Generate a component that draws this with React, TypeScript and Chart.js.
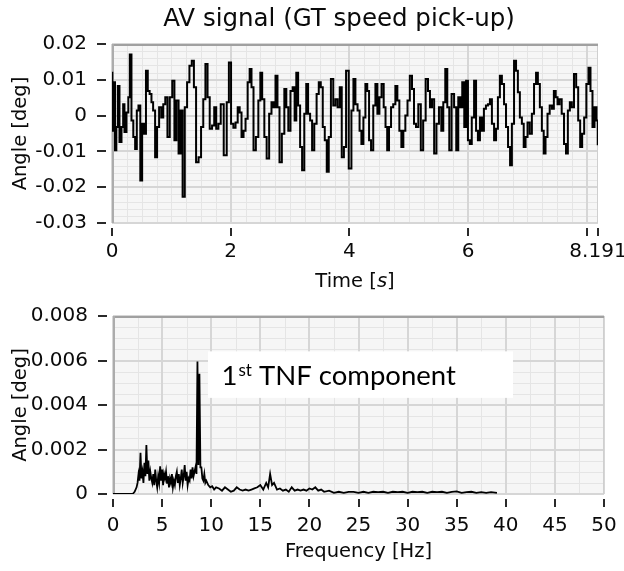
import React, { useEffect, useRef } from 'react';
import { Chart, registerables } from 'chart.js';

Chart.register(...registerables);

// ---------- Top chart data: AV signal (time in s, angle in deg) ----------
const TIME_S = [
  0.000, 0.011, 0.039, 0.062, 0.084, 0.112, 0.140, 0.180, 0.196, 0.224, 0.264, 0.286, 0.314, 0.342, 0.376, 0.404,
  0.432, 0.460, 0.494, 0.522, 0.556, 0.589, 0.617, 0.651, 0.679, 0.707, 0.746, 0.774, 0.814, 0.847, 0.881, 0.915,
  0.954, 0.993, 1.038, 1.066, 1.105, 1.139, 1.173, 1.207, 1.246, 1.285, 1.325, 1.364, 1.397, 1.437, 1.481, 1.521,
  1.555, 1.594, 1.627, 1.667, 1.706, 1.740, 1.773, 1.813, 1.852, 1.914, 1.953, 1.987, 2.026, 2.065, 2.099, 2.138,
  2.166, 2.200, 2.234, 2.267, 2.306, 2.334, 2.368, 2.402, 2.447, 2.486, 2.514, 2.548, 2.587, 2.626, 2.671, 2.705,
  2.739, 2.772, 2.806, 2.840, 2.885, 2.924, 2.952, 2.991, 3.025, 3.064, 3.092, 3.120, 3.154, 3.187, 3.221, 3.260,
  3.288, 3.322, 3.356, 3.389, 3.429, 3.468, 3.502, 3.535, 3.569, 3.603, 3.636, 3.670, 3.709, 3.749, 3.782, 3.822,
  3.855, 3.889, 3.928, 3.962, 4.018, 4.052, 4.086, 4.119, 4.158, 4.187, 4.220, 4.254, 4.288, 4.316, 4.349, 4.383,
  4.423, 4.456, 4.490, 4.524, 4.562, 4.596, 4.624, 4.652, 4.686, 4.720, 4.759, 4.793, 4.826, 4.860, 4.894, 4.927,
  4.961, 5.000, 5.039, 5.073, 5.107, 5.140, 5.185, 5.224, 5.264, 5.309, 5.342, 5.376, 5.410, 5.449, 5.488, 5.533,
  5.567, 5.600, 5.634, 5.668, 5.701, 5.746, 5.785, 5.819, 5.853, 5.886, 5.920, 5.954, 5.982, 6.016, 6.044, 6.083,
  6.122, 6.150, 6.184, 6.218, 6.251, 6.285, 6.319, 6.353, 6.386, 6.420, 6.459, 6.487, 6.521, 6.554, 6.588, 6.627,
  6.655, 6.695, 6.723, 6.756, 6.796, 6.824, 6.857, 6.891, 6.925, 6.953, 6.987, 7.020, 7.060, 7.093, 7.133, 7.161,
  7.194, 7.228, 7.262, 7.290, 7.323, 7.357, 7.397, 7.430, 7.464, 7.492, 7.526, 7.559, 7.599, 7.638, 7.666, 7.700,
  7.733, 7.767, 7.806, 7.840, 7.874, 7.907, 7.941, 7.975, 8.014, 8.048, 8.081, 8.115, 8.149, 8.182, 8.191,
];
const ANGLE_DEG = [
  0.0120, -0.0042, 0.0093, -0.0097, -0.0032, 0.0083, -0.0074, -0.0032, 0.0032, -0.0046, 0.0009, 0.0051, 0.0171, -0.0014, -0.0060, -0.0093,
  0.0014, 0.0028, -0.0181, -0.0023, -0.0051, 0.0125, 0.0069, 0.0060, 0.0037, 0.0014, -0.0116, -0.0032, 0.0023, -0.0005, 0.0032, 0.0051,
  -0.0060, 0.0051, 0.0097, -0.0069, 0.0042, -0.0106, 0.0014, -0.0227, 0.0023, 0.0093, 0.0139, 0.0153, 0.0079, -0.0130, -0.0116, -0.0032,
  0.0046, 0.0144, 0.0051, -0.0037, -0.0028, 0.0023, -0.0037, -0.0023, 0.0032, -0.0111, 0.0037, 0.0148, -0.0023, -0.0034, -0.0019, 0.0023,
  0.0009, -0.0060, -0.0042, -0.0009, 0.0093, 0.0130, 0.0079, -0.0097, -0.0060, 0.0042, 0.0120, 0.0046, -0.0060, -0.0120, 0.0005, 0.0037,
  0.0023, 0.0111, 0.0023, -0.0130, -0.0051, 0.0074, 0.0023, -0.0042, 0.0069, 0.0079, -0.0014, 0.0120, 0.0028, -0.0088, -0.0153, 0.0005,
  0.0088, 0.0005, -0.0014, -0.0097, -0.0023, 0.0060, 0.0093, 0.0079, -0.0032, -0.0069, -0.0157, -0.0060, 0.0102, 0.0028, 0.0046, 0.0023,
  0.0079, -0.0116, -0.0088, 0.0125, -0.0148, 0.0014, 0.0102, 0.0032, 0.0014, -0.0042, -0.0079, -0.0005, 0.0088, 0.0069, -0.0069, -0.0097,
  0.0028, 0.0088, 0.0005, 0.0051, 0.0088, 0.0023, -0.0032, -0.0097, -0.0032, 0.0023, 0.0032, 0.0083, 0.0042, -0.0042, -0.0088, -0.0042,
  0.0000, 0.0042, 0.0111, 0.0074, -0.0023, -0.0032, 0.0032, -0.0097, -0.0014, 0.0102, 0.0069, 0.0023, 0.0046, -0.0106, -0.0023, 0.0023,
  -0.0042, 0.0037, 0.0130, 0.0023, -0.0097, 0.0060, 0.0023, -0.0097, 0.0051, 0.0023, 0.0093, -0.0032, 0.0097, -0.0069, -0.0079, -0.0005,
  0.0097, -0.0042, -0.0069, -0.0005, -0.0042, 0.0019, 0.0028, 0.0032, 0.0046, -0.0023, -0.0069, -0.0037, 0.0051, 0.0111, 0.0088, 0.0032,
  -0.0032, -0.0088, -0.0139, -0.0023, 0.0153, 0.0125, 0.0065, -0.0005, -0.0023, -0.0088, -0.0060, -0.0019, -0.0051, 0.0005, 0.0088, 0.0120,
  0.0088, 0.0023, -0.0042, -0.0106, -0.0060, 0.0005, 0.0028, 0.0019, 0.0069, 0.0051, 0.0032, 0.0046, 0.0005, -0.0079, -0.0106, 0.0014,
  0.0037, 0.0023, 0.0116, 0.0079, -0.0014, -0.0088, -0.0051, -0.0005, 0.0088, 0.0134, 0.0069, -0.0032, 0.0023, -0.0014, -0.0080,
];
const TIME_TICKS = [0, 2, 4, 6, 8, 8.191];
const TIME_TICK_LABELS = ['0', '2', '4', '6', '', '8.191'];
const ANGLE_TICKS = [-0.03, -0.02, -0.01, 0, 0.01, 0.02];
const ANGLE_TICK_LABELS = ['-0.03', '-0.02', '-0.01', '0', '0.01', '0.02'];

// ---------- Bottom chart data: spectrum (frequency in Hz, angle in deg) ----------
const FREQ_HZ = [
  0, 1.0, 2.0, 2.2, 2.4, 2.5, 2.6, 2.7, 2.8, 2.9, 3.0, 3.1, 3.2, 3.3, 3.4, 3.5, 3.6, 3.7, 3.8, 3.9,
  4.0, 4.1, 4.2, 4.3, 4.4, 4.5, 4.6, 4.7, 4.8, 4.9, 5.0, 5.1, 5.2, 5.3, 5.4, 5.5, 5.6, 5.7, 5.8, 5.9,
  6.0, 6.1, 6.2, 6.3, 6.4, 6.5, 6.6, 6.7, 6.8, 6.9, 7.0, 7.1, 7.2, 7.3, 7.4, 7.5, 7.6, 7.7, 7.8, 7.9,
  8.0, 8.1, 8.2, 8.3, 8.4, 8.5, 8.6, 8.7, 8.8, 8.9, 9.0, 9.1, 9.2, 9.3, 9.4, 9.5, 9.7, 9.9, 10.1, 10.3,
  10.5, 10.8, 11.1, 11.4, 11.7, 12.0, 12.3, 12.6, 12.9, 13.2, 13.5, 13.8, 14.1, 14.4, 14.7, 15.0, 15.3, 15.6, 15.8, 16.0,
  16.2, 16.4, 16.7, 17.0, 17.3, 17.6, 17.9, 18.2, 18.5, 18.8, 19.1, 19.4, 19.7, 20.0, 20.3, 20.6, 20.9, 21.2, 21.5, 22.0,
  22.5, 23.0, 23.5, 24.0, 24.5, 25.0, 25.5, 26.0, 26.5, 27.0, 27.5, 28.0, 28.5, 29.0, 29.5, 30.0, 30.5, 31.0, 31.5, 32.0,
  32.5, 33.0, 33.5, 34.0, 34.5, 35.0, 35.5, 36.0, 36.5, 37.0, 37.5, 38.0, 38.5, 39.1,
];
const AMP_DEG = [
  0, 0, 0, 0.0001, 0.0003, 0.0005, 0.0009, 0.0006, 0.00185, 0.0007, 0.0010, 0.0005, 0.0014, 0.0008, 0.0022, 0.0009, 0.0015, 0.0006, 0.0010, 0.0007,
  0.0005, 0.0009, 0.0004, 0.0011, 0.0006, 0.0003, 0.0008, 0.0005, 0.00125, 0.0006, 0.0011, 0.0004, 0.0009, 0.0007, 0.0010, 0.0005, 0.0008, 0.0003, 0.0007, 0.0005,
  0.0009, 0.0003, 0.0006, 0.0004, 0.0008, 0.0010, 0.0005, 0.0009, 0.0004, 0.0007, 0.0011, 0.0005, 0.0008, 0.0013, 0.0006, 0.0010, 0.0004, 0.0007, 0.0006, 0.0011,
  0.0007, 0.0012, 0.0008, 0.0010, 0.0012, 0.0009, 0.00595, 0.0013, 0.0054, 0.0012, 0.0012, 0.0007, 0.0006, 0.0009, 0.0005, 0.0006, 0.0004, 0.0003, 0.00035, 0.0002,
  0.0003, 0.00025, 0.00015, 0.0003, 0.0002, 0.0001, 0.00015, 0.0003, 0.0002, 0.00015, 0.0002, 0.00015, 0.0002, 0.00025, 0.0003, 0.0004, 0.0002, 0.0005, 0.0003, 0.0009,
  0.0004, 0.0005, 0.0002, 0.00025, 0.00015, 0.0002, 0.0001, 0.0003, 0.00015, 0.0002, 0.00015, 0.0002, 0.00015, 0.00025, 0.0002, 0.0003, 0.00015, 0.0002, 0.0001, 0.00015,
  0.00005, 0.0001, 0.00005, 0.0001, 0.0001, 0.00005, 0.0001, 0.00005, 0.0001, 0.00008, 0.0001, 0.00005, 0.0001, 0.00008, 0.0001, 0.00005, 0.0001, 0.00008, 0.0001, 0.00005,
  0.0001, 0.00008, 0.0001, 0.00005, 0.0001, 0.00012, 0.00005, 0.00008, 0.0001, 0.00005, 0.00008, 0.00005, 0.00008, 0.00005,
];
const FREQ_TICKS = [0, 5, 10, 15, 20, 25, 30, 35, 40, 45, 50];
const FREQ_TICK_LABELS = ['0', '5', '10', '15', '20', '25', '30', '35', '40', '45', '50'];
const AMP_TICKS = [0, 0.002, 0.004, 0.006, 0.008];
const AMP_TICK_LABELS = ['0', '0.002', '0.004', '0.006', '0.008'];

// ---------- Texts ----------
const TOP_TITLE = 'AV signal (GT speed pick-up)';
const Y_TITLE = 'Angle [deg]';
const X_TITLE_TOP = ['Time [', 's', ']'];
const X_TITLE_BOTTOM = 'Frequency [Hz]';
const NOTE_MAIN = '1';
const NOTE_SUP = 'st';
const NOTE_REST = ' TNF component';
// annotation box in data units (Hz, deg)
const NOTE_BOX = { x0: 9.67, x1: 40.73, y0: 0.00432, y1: 0.00641 };
const NOTE_TEXT_AT = { x: 11.05, y: 0.0049 };

// ---------- Styles ----------
const FONT = 'DejaVu Sans';
const TEXT = '#0a0a0a';
const BG = '#f6f6f6';
const GRID_MINOR = '#e5e5e5';
const GRID_MAJOR = '#d6d6d6';

type Dec = {
  xMin: number; xMax: number; xMinor: number; xMajor: number;
  yMin: number; yMax: number; yMinor: number; yMajor: number;
  xTicks: number[]; yTicks: number[];
  yTitleX: number; xTitleY: number;
  drawExtra?: (chart: any) => void;
  drawXTitle: (ctx: CanvasRenderingContext2D, cx: number, cy: number) => void;
};

function gridValues(min: number, max: number, step: number) {
  const n = Math.floor((max - min) / step + 1e-9);
  const out: number[] = [];
  for (let i = 0; i <= n; i++) out.push(min + i * step);
  return out;
}

function makeDecor(d: Dec) {
  return {
    id: 'labviewDecor',
    beforeDatasetsDraw(chart: any) {
      const { ctx, chartArea: a, scales } = chart;
      const xs = scales.x, ys = scales.y;
      ctx.save();
      ctx.fillStyle = BG;
      ctx.fillRect(a.left, a.top, a.right - a.left, a.bottom - a.top);
      const vline = (v: number, color: string, w: number) => {
        const px = Math.round(xs.getPixelForValue(v)) + (w % 2 ? 0.5 : 0);
        ctx.strokeStyle = color; ctx.lineWidth = w;
        ctx.beginPath(); ctx.moveTo(px, a.top); ctx.lineTo(px, a.bottom); ctx.stroke();
      };
      const hline = (v: number, color: string, w: number) => {
        const py = Math.round(ys.getPixelForValue(v)) + (w % 2 ? 0.5 : 0);
        ctx.strokeStyle = color; ctx.lineWidth = w;
        ctx.beginPath(); ctx.moveTo(a.left, py); ctx.lineTo(a.right, py); ctx.stroke();
      };
      gridValues(d.xMin, d.xMax, d.xMinor).forEach((v) => vline(v, GRID_MINOR, 1));
      gridValues(d.yMin, d.yMax, d.yMinor).forEach((v) => hline(v, GRID_MINOR, 1));
      gridValues(d.xMin, d.xMax, d.xMajor).forEach((v) => vline(v, GRID_MAJOR, 2));
      gridValues(d.yMin, d.yMax, d.yMajor).forEach((v) => hline(v, GRID_MAJOR, 2));
      // frame
      ctx.strokeStyle = '#cfcfcf'; ctx.lineWidth = 1;
      ctx.beginPath(); ctx.moveTo(a.right - 0.5, a.top); ctx.lineTo(a.right - 0.5, a.bottom); ctx.stroke();
      ctx.strokeStyle = '#a0a0a0'; ctx.lineWidth = 2;
      ctx.beginPath(); ctx.moveTo(a.left, a.top + 1); ctx.lineTo(a.right, a.top + 1); ctx.stroke();
      ctx.strokeStyle = '#acacac'; ctx.lineWidth = 2;
      ctx.beginPath(); ctx.moveTo(a.left + 1, a.top); ctx.lineTo(a.left + 1, a.bottom); ctx.stroke();
      ctx.restore();
    },
    afterDatasetsDraw(chart: any) {
      if (d.drawExtra) d.drawExtra(chart);
    },
    afterDraw(chart: any) {
      const { ctx, chartArea: a, scales } = chart;
      const xs = scales.x, ys = scales.y;
      ctx.save();
      ctx.strokeStyle = '#2a2a2a';
      ctx.lineWidth = 2;
      d.yTicks.forEach((v) => {
        const py = Math.round(ys.getPixelForValue(v));
        ctx.beginPath(); ctx.moveTo(a.left - 15, py); ctx.lineTo(a.left - 6, py); ctx.stroke();
      });
      d.xTicks.forEach((v) => {
        const px = Math.round(xs.getPixelForValue(v));
        ctx.beginPath(); ctx.moveTo(px, a.bottom + 5); ctx.lineTo(px, a.bottom + 13); ctx.stroke();
      });
      // y title
      ctx.fillStyle = TEXT;
      ctx.font = `19.5px "${FONT}"`;
      ctx.textAlign = 'center';
      ctx.textBaseline = 'middle';
      ctx.save();
      ctx.translate(d.yTitleX, (a.top + a.bottom) / 2);
      ctx.rotate(-Math.PI / 2);
      ctx.fillText(Y_TITLE, 0, 0);
      ctx.restore();
      d.drawXTitle(ctx, (a.left + a.right) / 2, d.xTitleY);
      ctx.restore();
    },
  };
}

const tickFont = { family: FONT, size: 20 };

function topConfig(): any {
  const decor = makeDecor({
    xMin: 0, xMax: 8.191, xMinor: 0.25, xMajor: 2,
    yMin: -0.03, yMax: 0.02, yMinor: 0.002, yMajor: 0.01,
    xTicks: TIME_TICKS, yTicks: ANGLE_TICKS,
    yTitleX: 21, xTitleY: 282,
    drawXTitle: (ctx, cx, cy) => {
      const normal = `19.5px "${FONT}"`;
      const italic = `oblique 19.5px "${FONT}"`;
      ctx.font = normal;
      const w0 = ctx.measureText(X_TITLE_TOP[0]).width;
      const w2 = ctx.measureText(X_TITLE_TOP[2]).width;
      ctx.font = italic;
      const w1 = ctx.measureText(X_TITLE_TOP[1]).width;
      let x = cx - (w0 + w1 + w2) / 2;
      ctx.textAlign = 'left';
      ctx.textBaseline = 'middle';
      ctx.fillStyle = TEXT;
      ctx.font = normal; ctx.fillText(X_TITLE_TOP[0], x, cy); x += w0;
      ctx.font = italic; ctx.fillText(X_TITLE_TOP[1], x, cy); x += w1;
      ctx.font = normal; ctx.fillText(X_TITLE_TOP[2], x, cy);
    },
    drawExtra: (chart) => {
      const { ctx } = chart;
      ctx.save();
      ctx.fillStyle = TEXT;
      ctx.font = `24.5px "${FONT}"`;
      ctx.textAlign = 'center';
      ctx.textBaseline = 'middle';
      ctx.fillText(TOP_TITLE, 339, 20);
      ctx.restore();
    },
  });
  return {
    type: 'line',
    data: {
      datasets: [{
        data: TIME_S.map((t, i) => ({ x: t, y: ANGLE_DEG[i] })),
        borderColor: '#000',
        borderWidth: 2,
        pointRadius: 0,
        stepped: 'middle',
        fill: false,
      }],
    },
    options: {
      responsive: false,
      animation: false,
      devicePixelRatio: 1,
      events: [],
      layout: { padding: { top: 44, right: 26, left: 0, bottom: 0 } },
      plugins: { legend: { display: false }, tooltip: { enabled: false }, title: { display: false } },
      scales: {
        x: {
          type: 'linear', min: 0, max: 8.191,
          grid: { display: false }, border: { display: false },
          afterBuildTicks: (s: any) => { s.ticks = TIME_TICKS.map((v) => ({ value: v })); },
          afterFit: (s: any) => { s.height = 290 - 223; s.paddingLeft = 0; s.paddingRight = 0; },
          ticks: {
            autoSkip: false, maxRotation: 0, minRotation: 0, padding: 9,
            font: tickFont, color: TEXT,
            callback: (_v: any, i: number) => TIME_TICK_LABELS[i],
          },
        },
        y: {
          type: 'linear', min: -0.03, max: 0.02,
          grid: { display: false }, border: { display: false },
          afterBuildTicks: (s: any) => { s.ticks = ANGLE_TICKS.map((v) => ({ value: v })); },
          afterFit: (s: any) => { s.width = 112; s.paddingTop = 0; s.paddingBottom = 0; },
          ticks: {
            autoSkip: false, padding: 17, font: tickFont, color: TEXT,
            callback: (_v: any, i: number) => ANGLE_TICK_LABELS[i],
          },
        },
      },
    },
    plugins: [decor],
  };
}

function bottomConfig(): any {
  const decor = makeDecor({
    xMin: 0, xMax: 50, xMinor: 2.5, xMajor: 5,
    yMin: 0, yMax: 0.008, yMinor: 0.0005, yMajor: 0.002,
    xTicks: FREQ_TICKS, yTicks: AMP_TICKS,
    yTitleX: 21, xTitleY: 262,
    drawXTitle: (ctx, cx, cy) => {
      ctx.font = `19.5px "${FONT}"`;
      ctx.textAlign = 'center';
      ctx.textBaseline = 'middle';
      ctx.fillStyle = TEXT;
      ctx.fillText(X_TITLE_BOTTOM, cx, cy);
    },
    drawExtra: (chart) => {
      const { ctx, scales } = chart;
      const xs = scales.x, ys = scales.y;
      const bx0 = xs.getPixelForValue(NOTE_BOX.x0), bx1 = xs.getPixelForValue(NOTE_BOX.x1);
      const by0 = ys.getPixelForValue(NOTE_BOX.y1), by1 = ys.getPixelForValue(NOTE_BOX.y0);
      ctx.save();
      ctx.fillStyle = '#ffffff';
      ctx.fillRect(bx0, by0, bx1 - bx0, by1 - by0);
      const tx = xs.getPixelForValue(NOTE_TEXT_AT.x);
      const ty = ys.getPixelForValue(NOTE_TEXT_AT.y);
      ctx.fillStyle = '#000';
      ctx.textAlign = 'left';
      ctx.textBaseline = 'alphabetic';
      ctx.font = '27.5px Lato';
      ctx.fillText(NOTE_MAIN, tx, ty);
      let x = tx + ctx.measureText(NOTE_MAIN).width + 1;
      ctx.font = '17px Lato';
      ctx.fillText(NOTE_SUP, x, ty - 9);
      x += ctx.measureText(NOTE_SUP).width;
      ctx.font = '27.5px Lato';
      ctx.fillText(NOTE_REST, x, ty);
      ctx.restore();
    },
  });
  return {
    type: 'line',
    data: {
      datasets: [{
        data: FREQ_HZ.map((f, i) => ({ x: f, y: AMP_DEG[i] })),
        borderColor: '#000',
        borderWidth: 1.8,
        pointRadius: 0,
        fill: false,
      }],
    },
    options: {
      responsive: false,
      animation: false,
      devicePixelRatio: 1,
      events: [],
      layout: { padding: { top: 26, right: 20, left: 0, bottom: 0 } },
      plugins: { legend: { display: false }, tooltip: { enabled: false }, title: { display: false } },
      scales: {
        x: {
          type: 'linear', min: 0, max: 50,
          grid: { display: false }, border: { display: false },
          afterBuildTicks: (s: any) => { s.ticks = FREQ_TICKS.map((v) => ({ value: v })); },
          afterFit: (s: any) => { s.height = 281 - 204; s.paddingLeft = 0; s.paddingRight = 0; },
          ticks: {
            autoSkip: false, maxRotation: 0, minRotation: 0, padding: 12,
            font: tickFont, color: TEXT,
            callback: (_v: any, i: number) => FREQ_TICK_LABELS[i],
          },
        },
        y: {
          type: 'linear', min: 0, max: 0.008,
          grid: { display: false }, border: { display: false },
          afterBuildTicks: (s: any) => { s.ticks = AMP_TICKS.map((v) => ({ value: v })); },
          afterFit: (s: any) => { s.width = 113; s.paddingTop = 0; s.paddingBottom = 0; },
          ticks: {
            autoSkip: false, padding: 17, font: tickFont, color: TEXT,
            callback: (_v: any, i: number) => AMP_TICK_LABELS[i],
          },
        },
      },
    },
    plugins: [decor],
  };
}

export default function App() {
  const topRef = useRef<HTMLCanvasElement>(null);
  const botRef = useRef<HTMLCanvasElement>(null);
  useEffect(() => {
    const c1 = new Chart(topRef.current as HTMLCanvasElement, topConfig());
    const c2 = new Chart(botRef.current as HTMLCanvasElement, bottomConfig());
    return () => { c1.destroy(); c2.destroy(); };
  }, []);
  return (
    <div style={{ position: 'fixed', left: 0, top: 0, width: 624, height: 571, background: '#ffffff' }}>
      <canvas ref={topRef} width={624} height={290}
        style={{ position: 'absolute', left: 0, top: 0, width: 624, height: 290 }} />
      <canvas ref={botRef} width={624} height={281}
        style={{ position: 'absolute', left: 0, top: 290, width: 624, height: 281 }} />
    </div>
  );
}
